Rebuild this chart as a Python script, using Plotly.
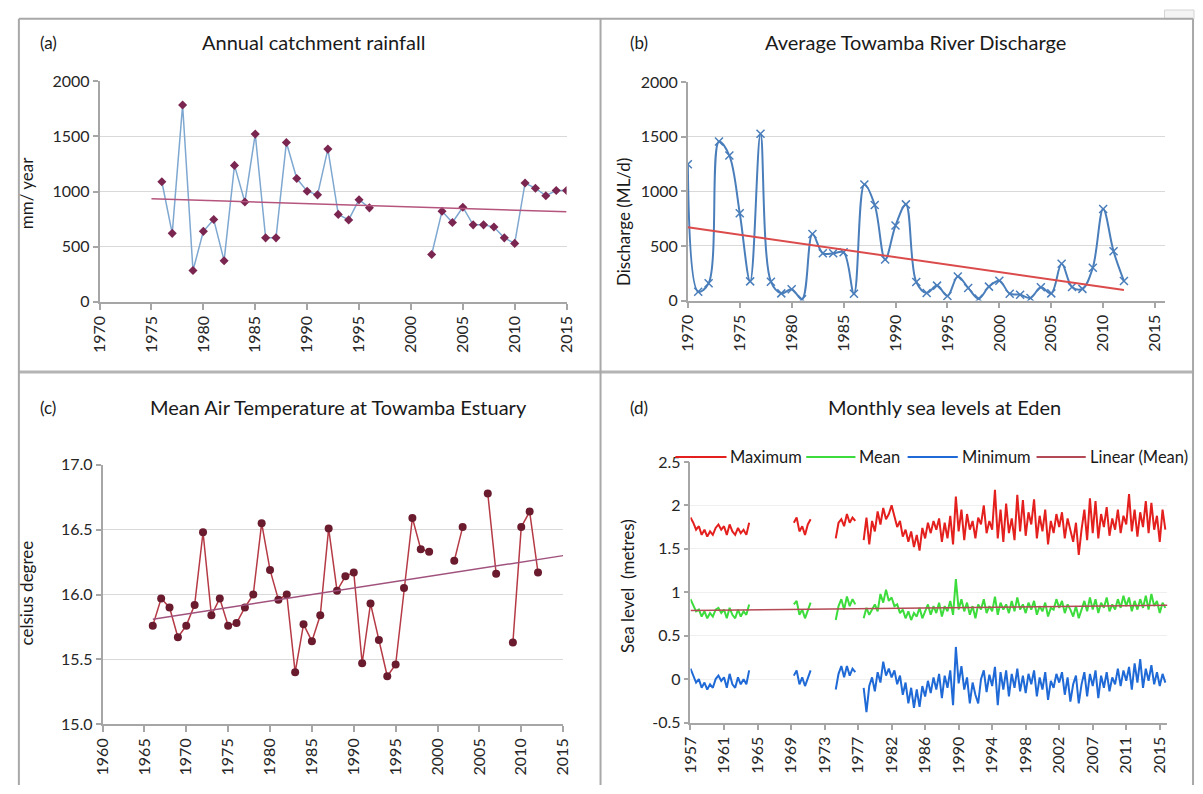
import plotly.graph_objects as go

W, H = 1203, 794
FONT = "Lato"
TXT = "#262626"
AXIS = "#A6A6A6"
GRID = "#D9D9D9"

# (a) Annual catchment rainfall, mm/year
rain_years = [1976, 1977, 1978, 1979, 1980, 1981, 1982, 1983, 1984, 1985, 1986, 1987,
              1988, 1989, 1990, 1991, 1992, 1993, 1994, 1995, 1996, 1997, 1998, 1999,
              2000, 2001, 2002, 2003, 2004, 2005, 2006, 2007, 2008, 2009, 2010, 2011,
              2012, 2013, 2014, 2015]
rain_mm = [1089, 621, 1784, 284, 639, 746, 373, 1237, 905, 1521, 580, 580,
           1444, 1118, 1003, 970, 1385, 793, 743, 926, 852, None, None, None,
           None, None, 429, 822, 719, 858, 698, 698, 678, 580, 530, 1077,
           1030, 962, 1009, 1009]
rain_trend_years = [1975, 2015]
rain_trend_mm = [935, 817]

# (b) Average Towamba River discharge, ML/d
flow_years = list(range(1970, 2013))
flow_mld = [1248, 81, 158, 1457, 1328, 800, 176, 1528, 173, 66, 104, 12,
            609, 433, 433, 442, 63, 1063, 875, 376, 687, 881, 170, 69,
            137, 42, 221, 116, 18, 128, 182, 63, 54, 24, 122, 66,
            337, 125, 107, 301, 839, 451, 179]
flow_trend_years = [1970, 2012]
flow_trend_mld = [672, 96]

# (c) Mean air temperature at Towamba estuary, deg C
temp_years = list(range(1966, 2013))
temp_c = [15.76, 15.97, 15.90, 15.67, 15.76, 15.92, 16.48, 15.84, 15.97, 15.76,
          15.78, 15.90, 16.00, 16.55, 16.19, 15.96, 16.00, 15.40, 15.77, 15.64,
          15.84, 16.51, 16.03, 16.14, 16.17, 15.47, 15.93, 15.65, 15.37, 15.46,
          16.05, 16.59, 16.35, 16.33, None, None, 16.26, 16.52, None, None,
          16.78, 16.16, None, 15.63, 16.52, 16.64, 16.17]
temp_trend_years = [1966, 2015]
temp_trend_c = [15.81, 16.30]

# (d) Monthly sea levels at Eden (m); record rows, sampled every 4th row
sea_tick_rows = [0, 48, 96, 144, 192, 240, 288, 336, 384, 432, 480, 528, 576, 624, 672]
sea_tick_labels = ["1957", "1961", "1965", "1969", "1973", "1977", "1982", "1986",
                   "1990", "1994", "1998", "2002", "2007", "2011", "2015"]
sea_row_step = 4
sea_segment_start_rows = [0, 148, 208, 248]

sea_max = [
    [1.86, 1.80, 1.72, 1.76, 1.66, 1.72, 1.64, 1.70, 1.66, 1.74, 1.78, 1.72, 1.76, 1.66,
     1.78, 1.70, 1.66, 1.74, 1.68, 1.72, 1.66, 1.80],
    [1.80, 1.86, 1.70, 1.76, 1.66, 1.78, 1.84],
    [1.62, 1.80, 1.84, 1.76, 1.90, 1.80, 1.86, 1.82],
    [1.60, 1.86, 1.55, 1.82, 1.70, 1.93, 1.78, 1.97, 1.84, 1.90,
     2.00, 1.86, 1.75, 1.82, 1.64, 1.72, 1.58, 1.70, 1.52, 1.66, 1.48, 1.74,
     1.62, 1.80, 1.68, 1.82, 1.72, 1.85, 1.58, 1.80, 1.62, 1.88, 1.55, 2.10,
     1.70, 1.95, 1.60, 1.90, 1.72, 1.82, 1.62, 1.86, 1.78, 2.00, 1.68, 1.82,
     1.72, 2.18, 1.62, 1.95, 1.58, 2.02, 1.68, 1.85, 1.60, 2.12, 1.70, 2.06,
     1.65, 1.92, 1.78, 2.07, 1.62, 1.88, 1.70, 1.95, 1.55, 1.82, 1.68, 1.90,
     1.75, 1.92, 1.62, 1.85, 1.70, 1.58, 1.80, 1.43, 1.72, 1.95, 1.60, 2.08,
     1.68, 2.05, 1.62, 1.90, 1.75, 1.98, 1.65, 1.85, 1.72, 1.95, 1.68, 1.88,
     1.78, 2.13, 1.70, 1.95, 1.64, 1.92, 1.75, 2.05, 1.68, 2.03, 1.72, 1.88,
     1.58, 1.95, 1.72],
]
sea_mean = [
    [0.92, 0.84, 0.78, 0.80, 0.72, 0.78, 0.70, 0.76, 0.72, 0.80, 0.82, 0.76, 0.80, 0.70,
     0.82, 0.74, 0.70, 0.80, 0.72, 0.78, 0.74, 0.86],
    [0.86, 0.90, 0.74, 0.80, 0.70, 0.80, 0.88],
    [0.68, 0.84, 0.92, 0.80, 0.95, 0.84, 0.92, 0.86],
    [0.70, 0.82, 0.74, 0.80, 0.86, 0.78, 0.98, 0.88, 1.03, 0.90,
     0.94, 0.84, 0.86, 0.76, 0.80, 0.70, 0.78, 0.68, 0.76, 0.72, 0.82, 0.70,
     0.78, 0.86, 0.74, 0.84, 0.76, 0.88, 0.72, 0.84, 0.78, 0.90, 0.74, 1.15,
     0.80, 0.92, 0.78, 0.88, 0.74, 0.84, 0.70, 0.86, 0.80, 0.92, 0.76, 0.84,
     0.78, 0.95, 0.74, 0.88, 0.80, 0.86, 0.76, 0.90, 0.78, 0.94, 0.80, 0.86,
     0.76, 0.88, 0.80, 0.90, 0.74, 0.84, 0.78, 0.88, 0.72, 0.82, 0.80, 0.92,
     0.82, 0.90, 0.76, 0.86, 0.80, 0.72, 0.84, 0.70, 0.80, 0.90, 0.78, 0.94,
     0.80, 0.92, 0.76, 0.88, 0.82, 0.94, 0.78, 0.86, 0.80, 0.92, 0.82, 0.96,
     0.84, 0.94, 0.78, 0.90, 0.80, 0.92, 0.82, 0.96, 0.80, 0.98, 0.84, 0.90,
     0.76, 0.88, 0.82],
]
sea_min = [
    [0.12, 0.04, -0.04, 0.00, -0.10, -0.04, -0.12, -0.06, -0.10, 0.00, 0.04, -0.02, 0.02,
     -0.10, 0.06, -0.06, -0.10, 0.02, -0.06, 0.00, -0.06, 0.10],
    [0.04, 0.10, -0.06, 0.02, -0.08, 0.02, 0.10],
    [-0.12, 0.06, 0.15, 0.02, 0.15, 0.04, 0.12, 0.08],
    [-0.10, -0.38, -0.08, 0.02, -0.14, 0.08, -0.04, 0.20, 0.04, 0.12,
     0.02, 0.10, -0.06, 0.04, -0.18, -0.04, -0.28, -0.10, -0.33, -0.12, -0.32, -0.08,
     -0.20, -0.02, -0.16, 0.02, -0.12, 0.06, -0.22, 0.04, -0.10, 0.10, -0.30, 0.37,
     -0.05, 0.15, -0.12, 0.02, -0.28, -0.04, -0.18, -0.28, 0.00, 0.10, -0.15, 0.05,
     -0.08, 0.14, -0.30, 0.08, -0.12, 0.10, -0.20, 0.06, -0.10, 0.12, -0.14, 0.04,
     -0.16, 0.06, -0.06, 0.10, -0.20, 0.02, -0.12, 0.08, -0.24, -0.02, -0.10, 0.06,
     -0.04, 0.08, -0.18, 0.02, -0.26, -0.06, 0.04, -0.28, -0.06, 0.08, -0.20, 0.06,
     -0.08, 0.10, -0.22, 0.04, -0.10, 0.08, -0.14, 0.02, -0.06, 0.12, -0.08, 0.10,
     -0.02, 0.14, -0.12, 0.18, -0.04, 0.23, -0.10, 0.12, -0.02, 0.16, -0.06, 0.08,
     -0.08, 0.06, -0.04],
]
sea_trend_rows = [0, 683]
sea_trend_m = [0.79, 0.85]

SEA_COLORS = {"Maximum": "#E4201E", "Mean": "#3CDC3C", "Minimum": "#1F6AD6",
              "Linear (Mean)": "#B44A55"}


def join_segments(segments):
    """Concatenate record segments into x/y lists with breaks between them."""
    xs, ys = [], []
    for start, vals in zip(sea_segment_start_rows, segments):
        if xs:
            xs.append(None)
            ys.append(None)
        xs.extend(start + sea_row_step * i for i in range(len(vals)))
        ys.extend(vals)
    return xs, ys


fig = go.Figure()

# --- (a)
fig.add_trace(go.Scatter(x=rain_years, y=rain_mm, mode="lines+markers",
                         line=dict(color="#7FA8D1", width=1.5),
                         marker=dict(symbol="diamond", size=7, color="#7B2651"),
                         xaxis="x", yaxis="y", showlegend=False))
fig.add_trace(go.Scatter(x=rain_trend_years, y=rain_trend_mm, mode="lines",
                         line=dict(color="#B5557D", width=1.5),
                         xaxis="x", yaxis="y", showlegend=False))

# --- (b)
fig.add_trace(go.Scatter(x=flow_years, y=flow_mld, mode="lines+markers",
                         line=dict(color="#4A7EBB", width=2, shape="spline", smoothing=1.0),
                         marker=dict(symbol="x-thin", size=8,
                                     line=dict(color="#4A7EBB", width=1.5)),
                         xaxis="x2", yaxis="y2", showlegend=False))
fig.add_trace(go.Scatter(x=flow_trend_years, y=flow_trend_mld, mode="lines",
                         line=dict(color="#DC4B4B", width=2),
                         xaxis="x2", yaxis="y2", showlegend=False))

# --- (c)
fig.add_trace(go.Scatter(x=temp_years, y=temp_c, mode="lines+markers",
                         line=dict(color="#B53A45", width=1.5),
                         marker=dict(symbol="circle", size=8, color="#6A1B2E"),
                         xaxis="x3", yaxis="y3", showlegend=False))
fig.add_trace(go.Scatter(x=temp_trend_years, y=temp_trend_c, mode="lines",
                         line=dict(color="#A0527D", width=1.5),
                         xaxis="x3", yaxis="y3", showlegend=False))

# --- (d)
for name, segs in [("Maximum", sea_max), ("Mean", sea_mean), ("Minimum", sea_min)]:
    xs, ys = join_segments(segs)
    fig.add_trace(go.Scatter(x=xs, y=ys, mode="lines", name=name,
                             line=dict(color=SEA_COLORS[name], width=2),
                             xaxis="x4", yaxis="y4", showlegend=False))
fig.add_trace(go.Scatter(x=sea_trend_rows, y=sea_trend_m, mode="lines",
                         name="Linear (Mean)",
                         line=dict(color=SEA_COLORS["Linear (Mean)"], width=1.5),
                         xaxis="x4", yaxis="y4", showlegend=False))


def xax(dom, rng, anchor, **kw):
    d = dict(domain=[dom[0] / W, dom[1] / W], range=rng, anchor=anchor,
             showline=True, linecolor=AXIS, linewidth=1.5, ticks="outside",
             ticklen=6, tickcolor=AXIS, tickwidth=1.5, showgrid=False,
             zeroline=False, tickangle=-90,
             tickfont=dict(family=FONT, size=16, color=TXT))
    d.update(kw)
    return d


def yax(dom, rng, anchor, **kw):
    d = dict(domain=[1 - dom[1] / H, 1 - dom[0] / H], range=rng, anchor=anchor,
             showline=True, linecolor=AXIS, linewidth=1.5, ticks="outside",
             ticklen=5, tickcolor=AXIS, tickwidth=1.5, showgrid=True,
             gridcolor=GRID, gridwidth=1, zeroline=False,
             tickfont=dict(family=FONT, size=16, color=TXT))
    d.update(kw)
    return d


fig.update_layout(
    width=W, height=H, margin=dict(l=0, r=0, t=0, b=0),
    paper_bgcolor="white", plot_bgcolor="white",
    font=dict(family=FONT, color=TXT), showlegend=False,
    xaxis=xax((90, 564.5), [1970, 2015], "y", tickvals=list(range(1970, 2016, 5))),
    yaxis=yax((73, 299), [0, 2000], "x", tickvals=[0, 500, 1000, 1500, 2000]),
    xaxis2=xax((687.7, 1173), [1970, 2016], "y2", tickvals=list(range(1970, 2016, 5))),
    yaxis2=yax((74, 297.7), [0, 2000], "x2", tickvals=[0, 500, 1000, 1500, 2000]),
    xaxis3=xax((93, 561), [1960, 2015], "y3", tickvals=list(range(1960, 2016, 5))),
    yaxis3=yax((466, 731.7), [15, 17], "x3", tickvals=[15, 15.5, 16, 16.5, 17],
               tickformat=".1f"),
    xaxis4=xax((690.4, 1175), [0, 683], "y4", tickvals=sea_tick_rows,
               ticktext=sea_tick_labels),
    yaxis4=yax((463, 730), [-0.5, 2.5], "x4",
               tickvals=[-0.5, 0, 0.5, 1, 1.5, 2, 2.5],
               ticktext=["-0.5", "0", "0.5", "1", "1.5", "2", "2.5"],
               gridcolor="#EFEFEF"),
)

annotations = []
shapes = []


def label(x, y, text, size=16, angle=0, anchor="center"):
    annotations.append(dict(x=x / W, y=1 - y / H, xref="paper", yref="paper",
                            text=text, showarrow=False, textangle=angle,
                            xanchor=anchor, yanchor="middle",
                            font=dict(family=FONT, size=size, color="#1A1A1A")))


label(307, 33, "Annual catchment rainfall", 20)
label(38, 33, "(a)", 17)
label(919, 33, "Average Towamba River Discharge", 20)
label(638, 33, "(b)", 17)
label(333, 407, "Mean Air Temperature at Towamba Estuary", 20)
label(38, 407, "(c)", 17)
label(948, 407, "Monthly sea levels at Eden", 20)
label(638, 407, "(d)", 17)
label(16, 187, "mm/ year", 17, -90)
label(623, 217, "Discharge (ML/d)", 17, -90)
label(16, 597, "celsius degree", 17, -90)
label(627, 590, "Sea level  (metres)", 17, -90)

# legend of panel (d): line key followed by its name
legend_items = [("Maximum", 675, 727), ("Mean", 808, 858),
                ("Minimum", 911, 962), ("Linear (Mean)", 1042, 1092)]
for name, x0, x1 in legend_items:
    shapes.append(dict(type="line", xref="paper", yref="paper", x0=x0 / W, x1=x1 / W,
                       y0=1 - 458 / H, y1=1 - 458 / H,
                       line=dict(color=SEA_COLORS[name], width=2)))
    label(x1 + 2, 458, name, 16.5, 0, "left")

fig.update_layout(annotations=annotations)

# panel frames
BORDER = "#A8A8A8"


def hline(y, x0, x1, w=2, c=BORDER):
    shapes.append(dict(type="line", xref="paper", yref="paper", x0=x0 / W, x1=x1 / W,
                       y0=1 - y / H, y1=1 - y / H, line=dict(color=c, width=w)))


def vline(x, y0, y1, w=2, c=BORDER):
    shapes.append(dict(type="line", xref="paper", yref="paper", x0=x / W, x1=x / W,
                       y0=1 - y0 / H, y1=1 - y1 / H, line=dict(color=c, width=w)))


shapes.append(dict(type="rect", xref="paper", yref="paper", x0=1172 / W, x1=1202 / W,
                   y0=1 - 9 / H, y1=1, fillcolor="#F4F4F4",
                   line=dict(color="#D4D4D4", width=1)))
hline(9, 8, 1201)
hline(371, 8, 1201, w=3, c="#B4B4B4")
vline(8, 9, 794)
vline(599, 9, 794)
vline(1201, 9, 794)
fig.update_layout(shapes=shapes)

fig.write_html("out.html")
